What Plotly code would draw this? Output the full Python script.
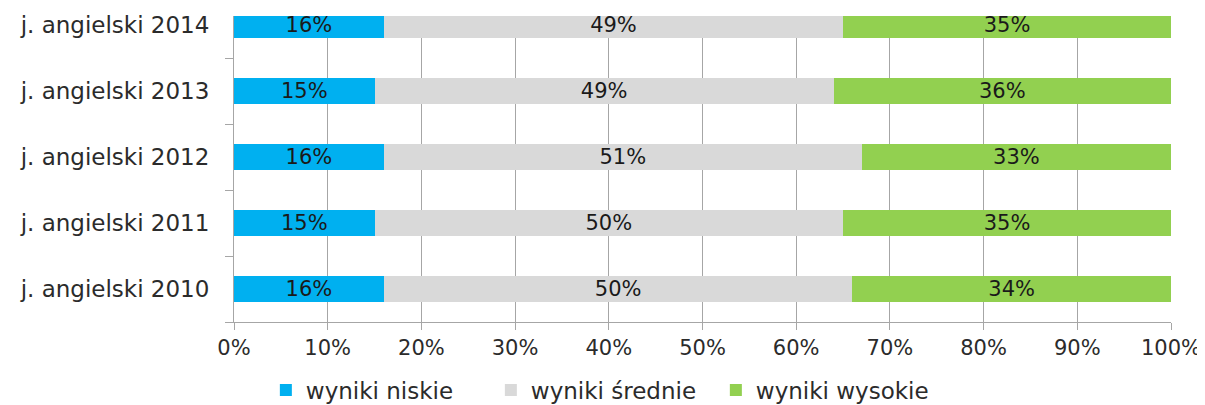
import plotly.graph_objects as go

categories = ["j. angielski 2010", "j. angielski 2011", "j. angielski 2012",
              "j. angielski 2013", "j. angielski 2014"]
niskie = [16, 15, 16, 15, 16]
srednie = [50, 50, 51, 49, 49]
wysokie = [34, 35, 33, 36, 35]
series_names = ["wyniki niskie", "wyniki średnie", "wyniki wysokie"]
colors = ["#00B0F0", "#D9D9D9", "#92D050"]
x_ticks = [0, 10, 20, 30, 40, 50, 60, 70, 80, 90, 100]

FONT = "DejaVu Sans"
TXT = "#2b2b2b"
fig = go.Figure()
for name, vals, col in zip(series_names, [niskie, srednie, wysokie], colors):
    fig.add_trace(go.Bar(
        y=categories, x=vals, name=name, orientation="h",
        marker=dict(color=col, line=dict(width=0)),
        text=[f"{v}%" for v in vals], textposition="inside",
        insidetextanchor="middle", constraintext="none",
        textfont=dict(family=FONT, size=21, color="#1a1a1a"),
        hoverinfo="skip", cliponaxis=True,
    ))

# page body has an 8px margin, so the figure is offset by (8, 8)
fig.update_layout(
    barmode="stack", bargap=0.6,
    width=1197, height=397,
    margin=dict(l=226, r=34, t=8, b=83, autoexpand=False),
    paper_bgcolor="white", plot_bgcolor="white",
    font=dict(family=FONT, size=21, color=TXT),
    showlegend=True,
    legend=dict(orientation="h", x=0.034, xanchor="left", y=-0.222, yanchor="middle",
                traceorder="normal", font=dict(family=FONT, size=23, color=TXT),
                itemwidth=30, entrywidth=180, entrywidthmode="pixels"),
)
fig.update_xaxes(range=[0, 100], tickvals=x_ticks, ticktext=[f"{t}%" for t in x_ticks],
                 showgrid=True, gridcolor="#A6A6A6", gridwidth=1, zeroline=False,
                 showline=True, linecolor="#A6A6A6", linewidth=1, automargin=False,
                 ticks="outside", ticklen=7, tickcolor="#A6A6A6",
                 tickfont=dict(family=FONT, size=21, color=TXT))
fig.update_yaxes(categoryorder="array", categoryarray=categories, range=[-0.5, 4.14],
                 showgrid=False, showline=True, linecolor="#A6A6A6", linewidth=1,
                 automargin=False,
                 ticks="outside", ticklen=8, tickcolor="#A6A6A6", tickson="boundaries",
                 tickfont=dict(family=FONT, size=23, color=TXT), ticklabelstandoff=19)

fig.write_html("out.html")
